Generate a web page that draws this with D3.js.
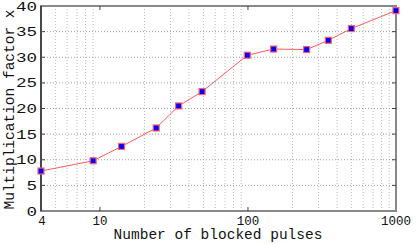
<!DOCTYPE html>
<html>
<head>
<meta charset="utf-8">
<script src="https://cdn.jsdelivr.net/npm/d3@7"></script>
<style>
	body { margin: 0; background: #fff; }
	text { font-family: "Liberation Mono", monospace; fill: #111; }
</style>
</head>
<body>
<svg id="chart"></svg>
<script>
// blocked pulses vs multiplication factor
const pulses = [4, 9, 14, 24, 34, 49, 99, 149, 249, 349, 499, 999];
const factor = [7.8, 9.8, 12.6, 16.2, 20.5, 23.3, 30.4, 31.6, 31.5, 33.3, 35.6, 39.1];
const xTicks = [4, 10, 100, 1000];
const yTicks = [0, 5, 10, 15, 20, 25, 30, 35, 40];

const width = 416;
const height = 244;
const margin = { top: 6, right: 20, bottom: 33, left: 41 };

const svg = d3.select("#chart")
	.attr("width", width)
	.attr("height", height);

const x = d3.scaleLog()
	.domain([4, 1000])
	.range([margin.left, width - margin.right]);

const y = d3.scaleLinear()
	.domain([0, 40])
	.range([height - margin.bottom, margin.top]);

// minor grid positions for the log axis
const minor = [];
for (const dec of [1, 10, 100]) {
	for (let k = 2; k <= 9; k++) {
		const v = k * dec;
		if (v > 4 && v < 1000) minor.push(v);
	}
}

// grid
svg.append("g")
	.selectAll("line")
	.data(minor)
	.join("line")
	.attr("x1", (d) => x(d))
	.attr("x2", (d) => x(d))
	.attr("y1", y(40))
	.attr("y2", y(0))
	.attr("stroke", "#b8b8b8")
	.attr("stroke-dasharray", "1,2");

svg.append("g")
	.selectAll("line")
	.data(yTicks.slice(1, -1))
	.join("line")
	.attr("x1", x(4))
	.attr("x2", x(1000))
	.attr("y1", (d) => y(d))
	.attr("y2", (d) => y(d))
	.attr("stroke", "#a0a0a0")
	.attr("stroke-dasharray", "1,2");

// spines
svg.append("rect")
	.attr("x", x(4))
	.attr("y", y(40))
	.attr("width", x(1000) - x(4))
	.attr("height", y(0) - y(40))
	.attr("fill", "none")
	.attr("stroke", "#888")
	.attr("stroke-width", 2);

svg.append("line")
	.attr("x1", x(4))
	.attr("x2", x(4))
	.attr("y1", y(40))
	.attr("y2", y(0))
	.attr("stroke", "#333")
	.attr("stroke-width", 1.5);

// inner ticks
const tk = svg.append("g").attr("stroke", "#444");
yTicks.slice(1, -1).forEach((d) => {
	tk.append("line").attr("x1", x(4)).attr("x2", x(4) + 4).attr("y1", y(d)).attr("y2", y(d));
	tk.append("line").attr("x1", x(1000)).attr("x2", x(1000) - 4).attr("y1", y(d)).attr("y2", y(d));
});
[10, 100].forEach((d) => {
	tk.append("line").attr("x1", x(d)).attr("x2", x(d)).attr("y1", y(0)).attr("y2", y(0) - 4);
	tk.append("line").attr("x1", x(d)).attr("x2", x(d)).attr("y1", y(40)).attr("y2", y(40) + 4);
});

// y tick labels
svg.append("g")
	.selectAll("text")
	.data(yTicks)
	.join("text")
	.attr("text-anchor", "end")
	.attr("transform", (d) => `translate(${x(4) - 4},${y(d) + 4.5}) scale(1.35,1)`)
	.style("font-size", "13px")
	.text((d) => d);

// x tick labels
svg.append("g")
	.selectAll("text")
	.data(xTicks)
	.join("text")
	.attr("x", (d) => (d === 4 ? x(d) + 1 : x(d)))
	.attr("y", y(0) + 13.5)
	.attr("text-anchor", "middle")
	.style("font-size", "12.5px")
	.text((d) => d);

// axis titles
svg.append("text")
	.attr("x", 218)
	.attr("y", 239)
	.attr("text-anchor", "middle")
	.style("font-size", "14.5px")
	.text("Number of blocked pulses");

svg.append("text")
	.attr("transform", `translate(14,${(y(0) + y(40)) / 2 + 1}) rotate(-90)`)
	.attr("text-anchor", "middle")
	.style("font-size", "14.5px")
	.text("Multiplication factor x");

// series
const pts = pulses.map((p, i) => ({ p, f: factor[i] }));

svg.append("path")
	.datum(pts)
	.attr("fill", "none")
	.attr("stroke", "#ff5a5a")
	.attr("stroke-width", 1)
	.attr("d", d3.line().x((d) => x(d.p)).y((d) => y(d.f)));

svg.append("g")
	.selectAll("rect")
	.data(pts)
	.join("rect")
	.attr("x", (d) => x(d.p) - 3)
	.attr("y", (d) => y(d.f) - 3)
	.attr("width", 6)
	.attr("height", 6)
	.attr("fill", "#0000ff")
	.attr("stroke", "#ff6070")
	.attr("stroke-width", 1.2);
</script>
</body>
</html>
